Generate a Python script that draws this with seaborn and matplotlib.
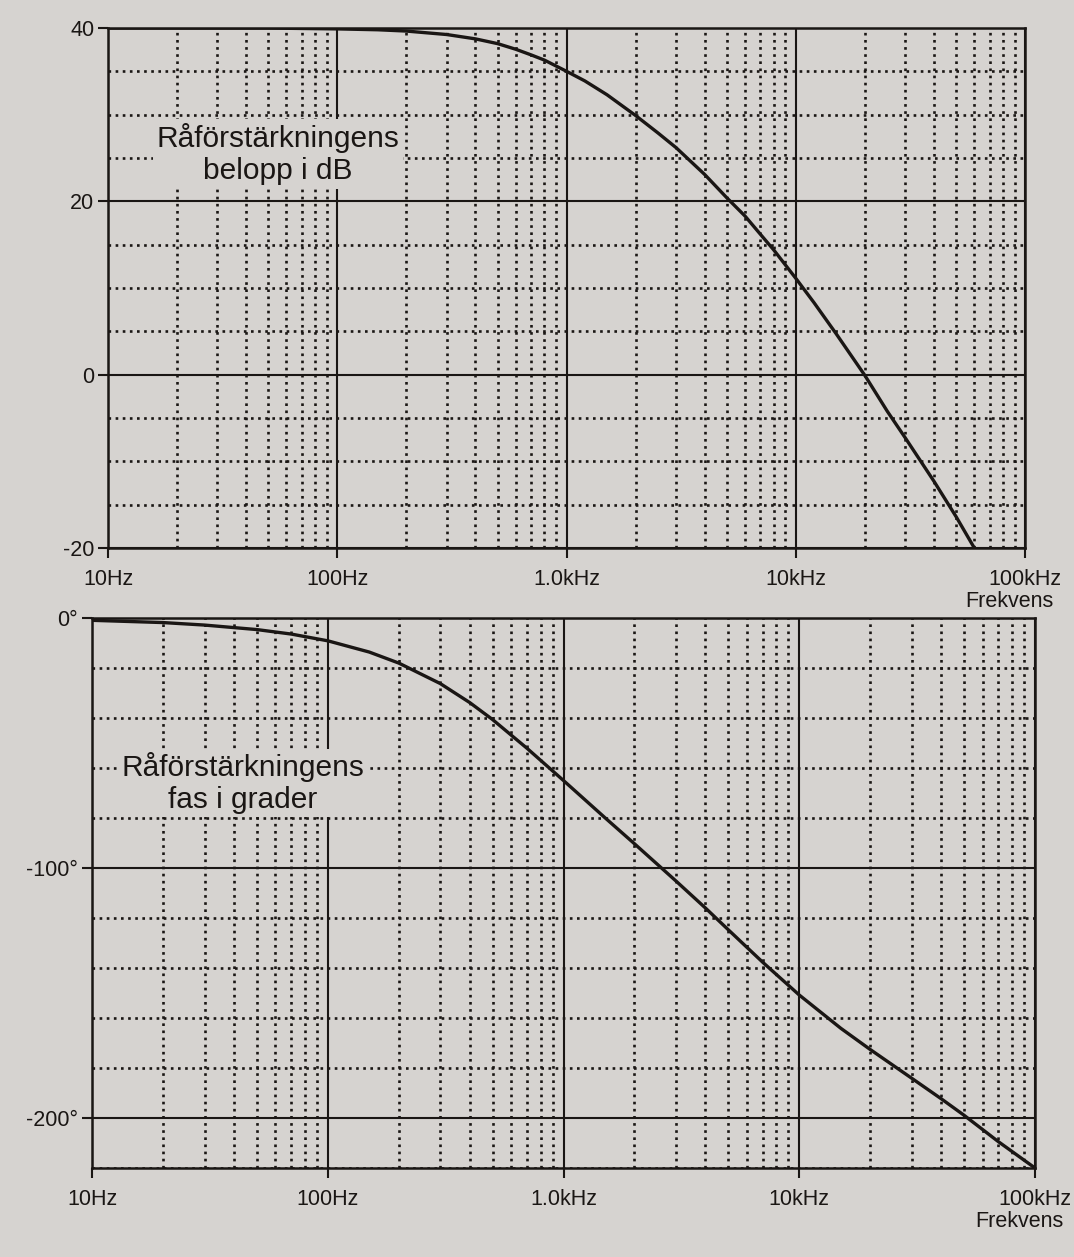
import numpy as np
import pandas as pd
import matplotlib
matplotlib.use('Agg')
import matplotlib.pyplot as plt
import seaborn as sns
from matplotlib.ticker import LogLocator, MultipleLocator, FixedLocator, NullFormatter

# Belopp (dB)
frek_belopp = [10, 20, 30, 50, 70, 100, 150, 200, 300, 400, 500, 600, 700, 800,
               1000, 1200, 1500, 2000, 2500, 3000, 4000, 5000, 6000, 7000, 8000,
               10000, 12000, 15000, 20000, 25000, 30000, 40000, 50000, 60000]
belopp_db = [40, 40, 40, 40, 39.95, 39.9, 39.8, 39.65, 39.25, 38.75, 38.2, 37.55,
             36.9, 36.3, 35.0, 33.9, 32.3, 29.9, 27.9, 26.2, 23.1, 20.4, 18.3,
             16.2, 14.4, 11.1, 8.3, 4.7, -0.1, -4.2, -7.3, -12.3, -16.4, -20.0]

# Fas (grader)
frek_fas = [10, 20, 30, 50, 70, 100, 150, 200, 300, 400, 500, 700, 1000, 1500,
            2000, 3000, 4000, 5000, 7000, 10000, 15000, 20000, 30000, 40000,
            50000, 70000, 100000]
fas_grader = [-0.9, -1.8, -2.8, -4.6, -6.4, -9.1, -13.6, -18, -26.2, -33.8,
              -40.6, -52.1, -65, -79.9, -90.3, -105.2, -116, -124.7, -137.7,
              -150.8, -164.1, -172.6, -184.1, -192.3, -198.9, -209.5, -220]

x_ticks = [10, 100, 1000, 10000, 100000]
x_labels = ['10Hz', '100Hz', '1.0kHz', '10kHz', '100kHz']
db_ticks = [-20, 0, 20, 40]
fas_ticks = [0, -100, -200]
fas_labels = ['0°', '-100°', '-200°']

bg = '#d6d3d0'
ink = '#1a1614'

sns.set_theme(style='ticks')
plt.rcParams['font.family'] = ['Liberation Sans', 'DejaVu Sans']

fig = plt.figure(figsize=(10.74, 12.57), dpi=100, facecolor=bg)
ax1 = fig.add_axes([0.1006, 0.564, 0.854, 0.4137])
ax2 = fig.add_axes([0.0857, 0.0708, 0.878, 0.4375])

df_b = pd.DataFrame({'f': frek_belopp, 'db': belopp_db})
df_f = pd.DataFrame({'f': frek_fas, 'fas': fas_grader})


def style_axes(ax):
    ax.set_facecolor(bg)
    ax.set_xscale('log')
    ax.set_xlim(10, 100000)
    ax.xaxis.set_major_locator(FixedLocator(x_ticks))
    ax.xaxis.set_minor_locator(LogLocator(base=10, subs=np.arange(2, 10)))
    ax.xaxis.set_minor_formatter(NullFormatter())
    ax.set_xticklabels(x_labels)
    ax.grid(which='major', color=ink, lw=1.5, ls='-')
    ax.grid(which='minor', color=ink, lw=1.9, ls=(0, (1, 1.7)))
    ax.set_axisbelow(True)
    ax.tick_params(which='major', direction='out', length=7, width=1.5,
                   color=ink, labelsize=15.5, pad=8, labelcolor=ink)
    ax.tick_params(axis='y', pad=3)
    ax.tick_params(which='minor', length=0)
    for s in ax.spines.values():
        s.set_visible(True)
        s.set_color(ink)
        s.set_linewidth(1.8)
    ax.set_xlabel('')
    ax.set_ylabel('')


# Övre diagram: belopp
sns.lineplot(data=df_b, x='f', y='db', ax=ax1, color=ink, lw=2.4)
style_axes(ax1)
ax1.set_ylim(-20, 40)
ax1.set_yticks(db_ticks)
ax1.set_yticklabels([str(v) for v in db_ticks])
ax1.yaxis.set_minor_locator(MultipleLocator(5))
ax1.text(0.185, 0.758, 'Råförstärkningens\nbelopp i dB', transform=ax1.transAxes,
         ha='center', va='center', fontsize=21.5, linespacing=1.21, color=ink,
         bbox=dict(facecolor=bg, edgecolor='none', pad=2.5), zorder=5)
ax1.text(1.0305, -0.102, 'Frekvens', transform=ax1.transAxes, ha='right',
         va='center', fontsize=15.5, color=ink)

# Undre diagram: fas
sns.lineplot(data=df_f, x='f', y='fas', ax=ax2, color=ink, lw=2.4)
style_axes(ax2)
ax2.set_ylim(-220, 0)
ax2.set_yticks(fas_ticks)
ax2.set_yticklabels(fas_labels)
ax2.yaxis.set_minor_locator(MultipleLocator(20))
ax2.text(0.160, 0.700, 'Råförstärkningens\nfas i grader', transform=ax2.transAxes,
         ha='center', va='center', fontsize=21.5, linespacing=1.21, color=ink,
         bbox=dict(facecolor=bg, edgecolor='none', pad=2), zorder=5)
ax2.text(1.0297, -0.098, 'Frekvens', transform=ax2.transAxes, ha='right',
         va='center', fontsize=15.5, color=ink)

fig.savefig('out.png', dpi=100, facecolor=bg)
